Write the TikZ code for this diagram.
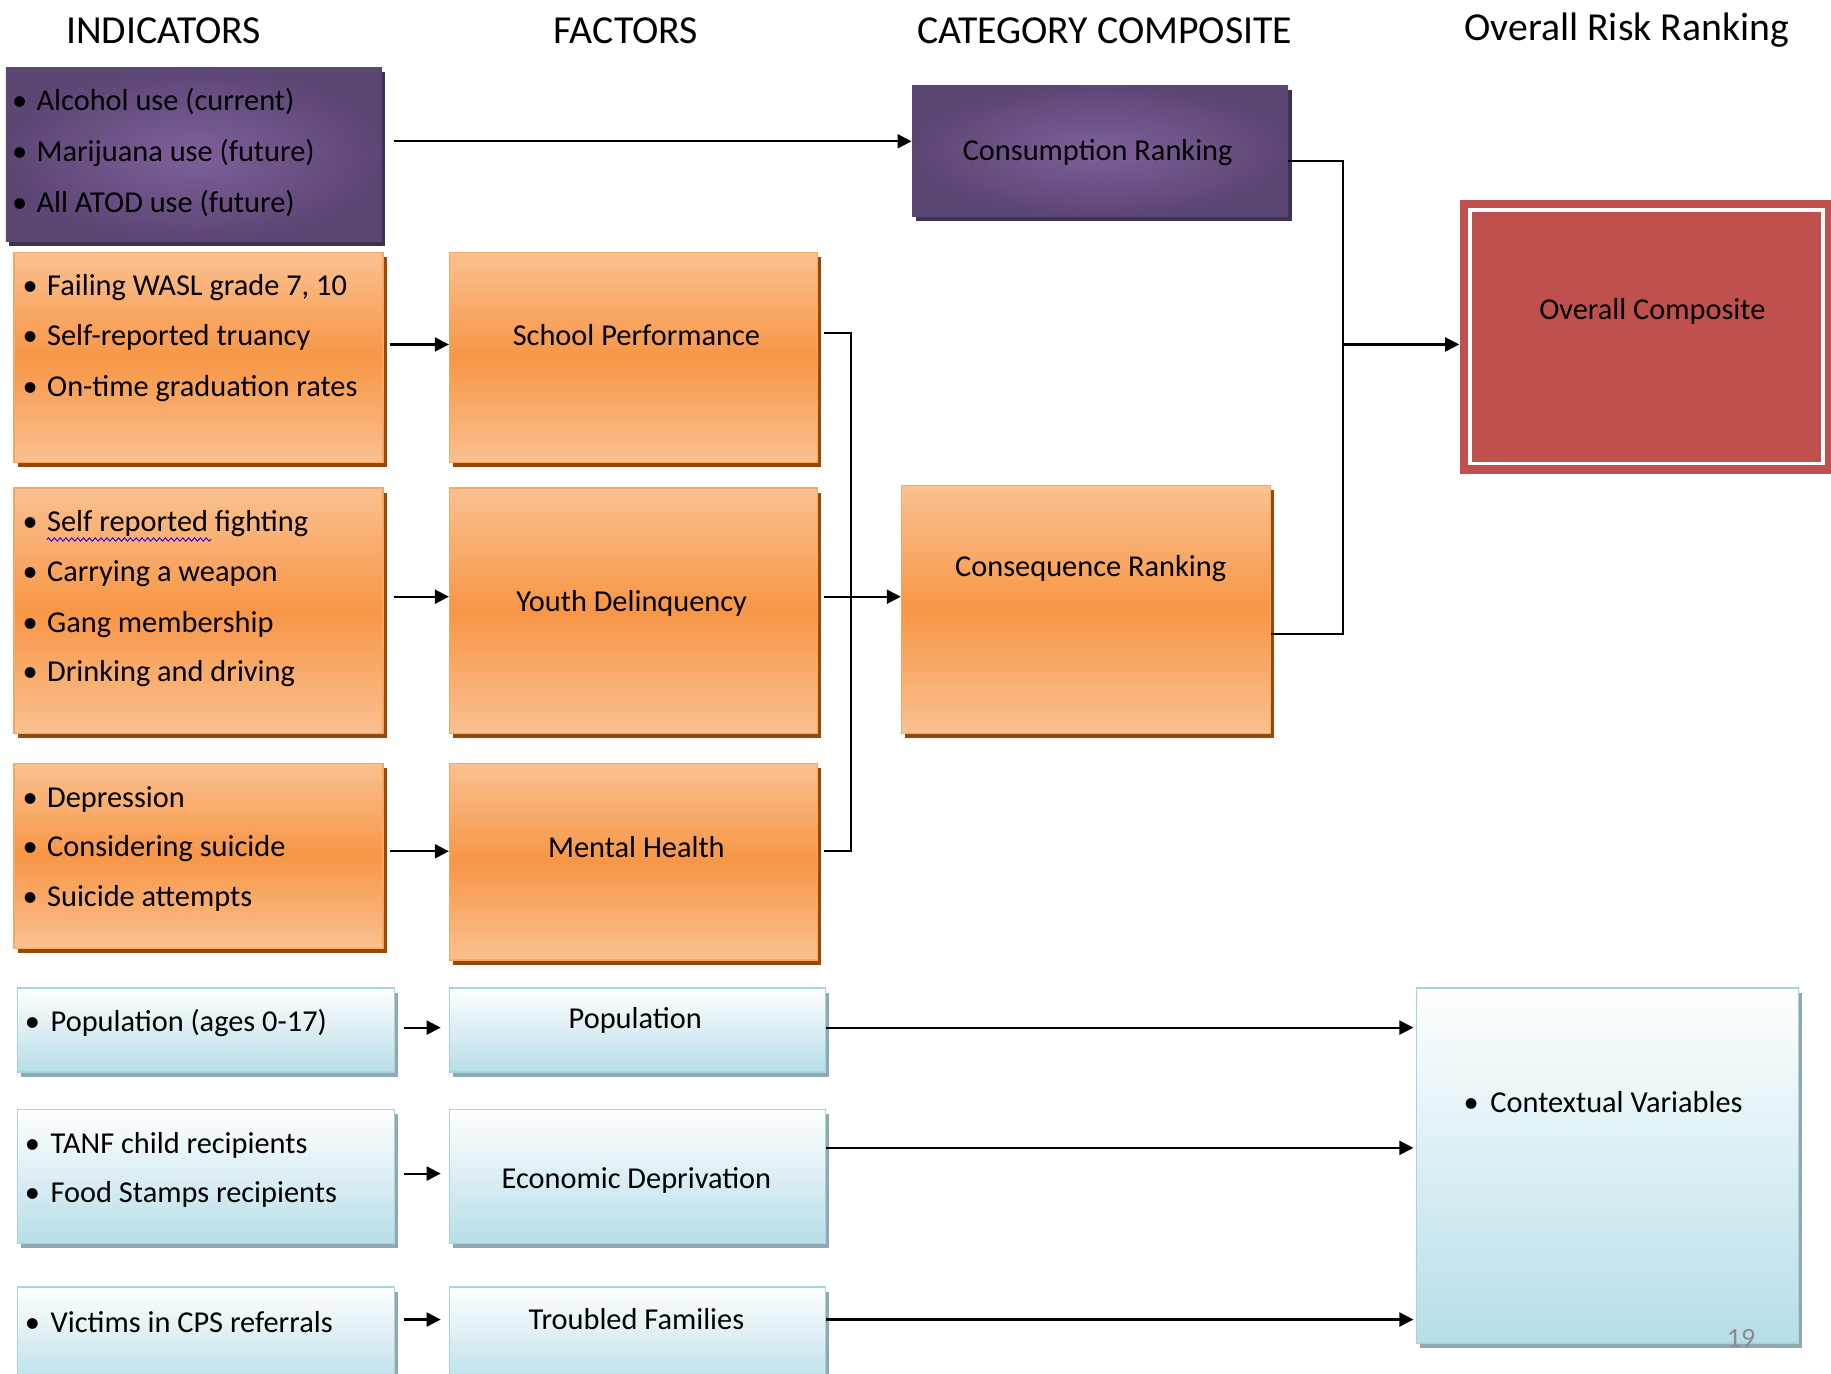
\documentclass[tikz,border=0pt]{standalone}
\usepackage{fontspec}
\setmainfont{Carlito}
\usetikzlibrary{fit,arrows.meta,decorations.pathmorphing}
\definecolor{orL}{HTML}{FAC191}
\definecolor{orM}{HTML}{F79646}
\definecolor{orB}{HTML}{F8A663}
\definecolor{orS}{HTML}{984807}
\definecolor{puI}{HTML}{7E609A}
\definecolor{puO}{HTML}{5C4674}
\definecolor{puS}{HTML}{3F3151}
\definecolor{blB}{HTML}{B7DEE8}
\definecolor{blE}{HTML}{A5D5E2}
\definecolor{blS}{HTML}{8FA9B0}
\definecolor{rdF}{HTML}{C0504D}
\newcommand\mybox[7]{\fill[#3] (#4+3,#5+4) rectangle (#6+3,#7+4);
  \node[#2,fit={(#4,#5)(#6,#7)},inner sep=0pt] (#1) {};}
\newcommand\bul[5]{\node[txt,anchor=west] (#1) at (#2,#3) {\makebox[#4][l]{•}#5};}
\begin{document}
\begin{tikzpicture}[x=0.5pt,y=-0.5pt,
  txt/.style={inner sep=0pt,font=\fontsize{13}{15}\selectfont},
  hdr/.style={inner sep=0pt,font=\fontsize{17}{20}\selectfont},
  orbox/.style={draw=orB,line width=0.6pt,top color=orL,bottom color=orL,middle color=orM},
  pubox/.style={inner color=puI,outer color=puO},
  blbox/.style={draw=blE,line width=0.6pt,top color=white,bottom color=blB},
  rdbox/.style={fill=rdF},
  arr/.style={line width=0.9pt,-{Triangle[length=6pt,width=6pt]}},
  ln/.style={line width=0.8pt}]
\clip (0,0) rectangle (1568,1176);
\fill[white] (0,0) rectangle (1568,1176);
% headers
\node[hdr] (h1) at (140,26) {INDICATORS};
\node[hdr] (h2) at (536,26) {FACTORS};
\node[hdr] (h3) at (946,26) {CATEGORY COMPOSITE};
\node[hdr] (h4) at (1393,26) {Overall Risk Ranking};
% boxes
\mybox{pind}{pubox}{puS}{5}{58}{327}{207}
\mybox{cons}{pubox}{puS}{781}{73}{1103}{185}
\mybox{oa}{orbox}{orS}{12}{216}{328}{396}
\mybox{school}{orbox}{orS}{385}{216}{700}{396}
\mybox{ob}{orbox}{orS}{12}{418}{328}{628}
\mybox{youth}{orbox}{orS}{385}{418}{700}{628}
\mybox{conseq}{orbox}{orS}{772}{416}{1088}{628}
\mybox{oc}{orbox}{orS}{12}{654}{328}{812}
\mybox{mental}{orbox}{orS}{385}{654}{700}{822}
\node[rdbox,fit={(1250,171)(1575,406)},inner sep=0pt] (overall) {};
\draw[white,line width=1.6pt] (1259,180) rectangle (1561,397);
\mybox{ba}{blbox}{blS}{15}{846}{338}{918}
\mybox{pop}{blbox}{blS}{385}{846}{707}{918}
\mybox{bb}{blbox}{blS}{15}{950}{338}{1065}
\mybox{econ}{blbox}{blS}{385}{950}{707}{1065}
\mybox{bc}{blbox}{blS}{15}{1102}{338}{1190}
\mybox{troub}{blbox}{blS}{385}{1102}{707}{1190}
\mybox{ctx}{blbox}{blS}{1213}{846}{1540}{1150}
% indicator texts
\bul{p1}{10}{87}{10.5pt}{Alcohol use (current)}
\bul{p2}{10}{131}{10.5pt}{Marijuana use (future)}
\bul{p3}{10}{174}{10.5pt}{All ATOD use (future)}
\bul{a1}{19}{246}{10.5pt}{Failing WASL grade 7, 10}
\bul{a2}{19}{289}{10.5pt}{Self-reported truancy}
\bul{a3}{19}{333}{10.5pt}{On-time graduation rates}
\bul{b1}{19}{448}{10.5pt}{Self reported fighting}
\bul{b2}{19}{491}{10.5pt}{Carrying a weapon}
\bul{b3}{19}{535}{10.5pt}{Gang membership}
\bul{b4}{19}{577}{10.5pt}{Drinking and driving}
\draw[blue!65!violet,line width=0.4pt,decorate,decoration={snake,amplitude=0.7pt,segment length=2.5pt}] (40,462) -- (181,462);
\bul{c1}{19}{685}{10.5pt}{Depression}
\bul{c2}{19}{727}{10.5pt}{Considering suicide}
\bul{c3}{19}{769}{10.5pt}{Suicide attempts}
\bul{d1}{21}{876}{11pt}{Population (ages 0-17)}
\bul{e1}{21}{981}{11pt}{TANF child recipients}
\bul{e2}{21}{1023}{11pt}{Food Stamps recipients}
\bul{f1}{21}{1132}{11pt}{Victims in CPS referrals}
\bul{g1}{1253}{944}{11.5pt}{Contextual Variables}
% factor / composite texts
\node[txt] (ts) at (545,287) {School Performance};
\node[txt] (ty) at (541,517) {Youth Delinquency};
\node[txt] (tm) at (545,725) {Mental Health};
\node[txt] (tc) at (940,131) {Consumption Ranking};
\node[txt] (tq) at (934,487) {Consequence Ranking};
\node[txt] (to) at (1415,267) {Overall Composite};
\node[txt] (tp) at (544,874) {Population};
\node[txt] (te) at (545,1011) {Economic Deprivation};
\node[txt] (tt) at (545,1130) {Troubled Families};
\node[inner sep=0pt,text=black!45,font=\fontsize{12}{14}\selectfont] (pg) at (1491,1146) {19};
% junction coordinates
\coordinate (j1) at (729,500);
\coordinate (j2) at (1150,300);
\coordinate (j3) at (1150,295);
% connectors
\draw[arr,shorten <=5pt] (pind.east |- 0,121) -- (cons.west |- 0,121);
\draw[arr,shorten <=2.5pt] (oa.east |- 0,295) -- (school.west |- 0,295);
\draw[arr,shorten <=4.5pt] (ob.east |- 0,511) -- (youth.west |- 0,511);
\draw[arr,shorten <=2.5pt] (oc.east |- 0,729) -- (mental.west |- 0,729);
\draw[ln,shorten <=2.5pt,shorten >=2.5pt] (school.east |- 0,285) -| (j1) |- (mental.east |- 0,729);
\draw[arr,shorten <=2.5pt] (youth.east |- 0,511) -- (conseq.west |- 0,511);
\draw[ln] (cons.east |- 0,138) -| (j2) |- (conseq.east |- 0,543);
\draw[arr] (j3) -- (overall.west |- 0,295);
\draw[arr,shorten >=1pt] (pop.east |- 0,880) -- (ctx.west |- 0,880);
\draw[arr,shorten >=1pt] (econ.east |- 0,983) -- (ctx.west |- 0,983);
\draw[arr,shorten >=1pt] (troub.east |- 0,1130) -- (ctx.west |- 0,1130);
\draw[arr,shorten <=3.5pt,shorten >=3.5pt] (ba.east |- 0,880) -- (pop.west |- 0,880);
\draw[arr,shorten <=3.5pt,shorten >=3.5pt] (bb.east |- 0,1005) -- (econ.west |- 0,1005);
\draw[arr,shorten <=3.5pt,shorten >=3.5pt] (bc.east |- 0,1130) -- (troub.west |- 0,1130);
\end{tikzpicture}
\end{document}
